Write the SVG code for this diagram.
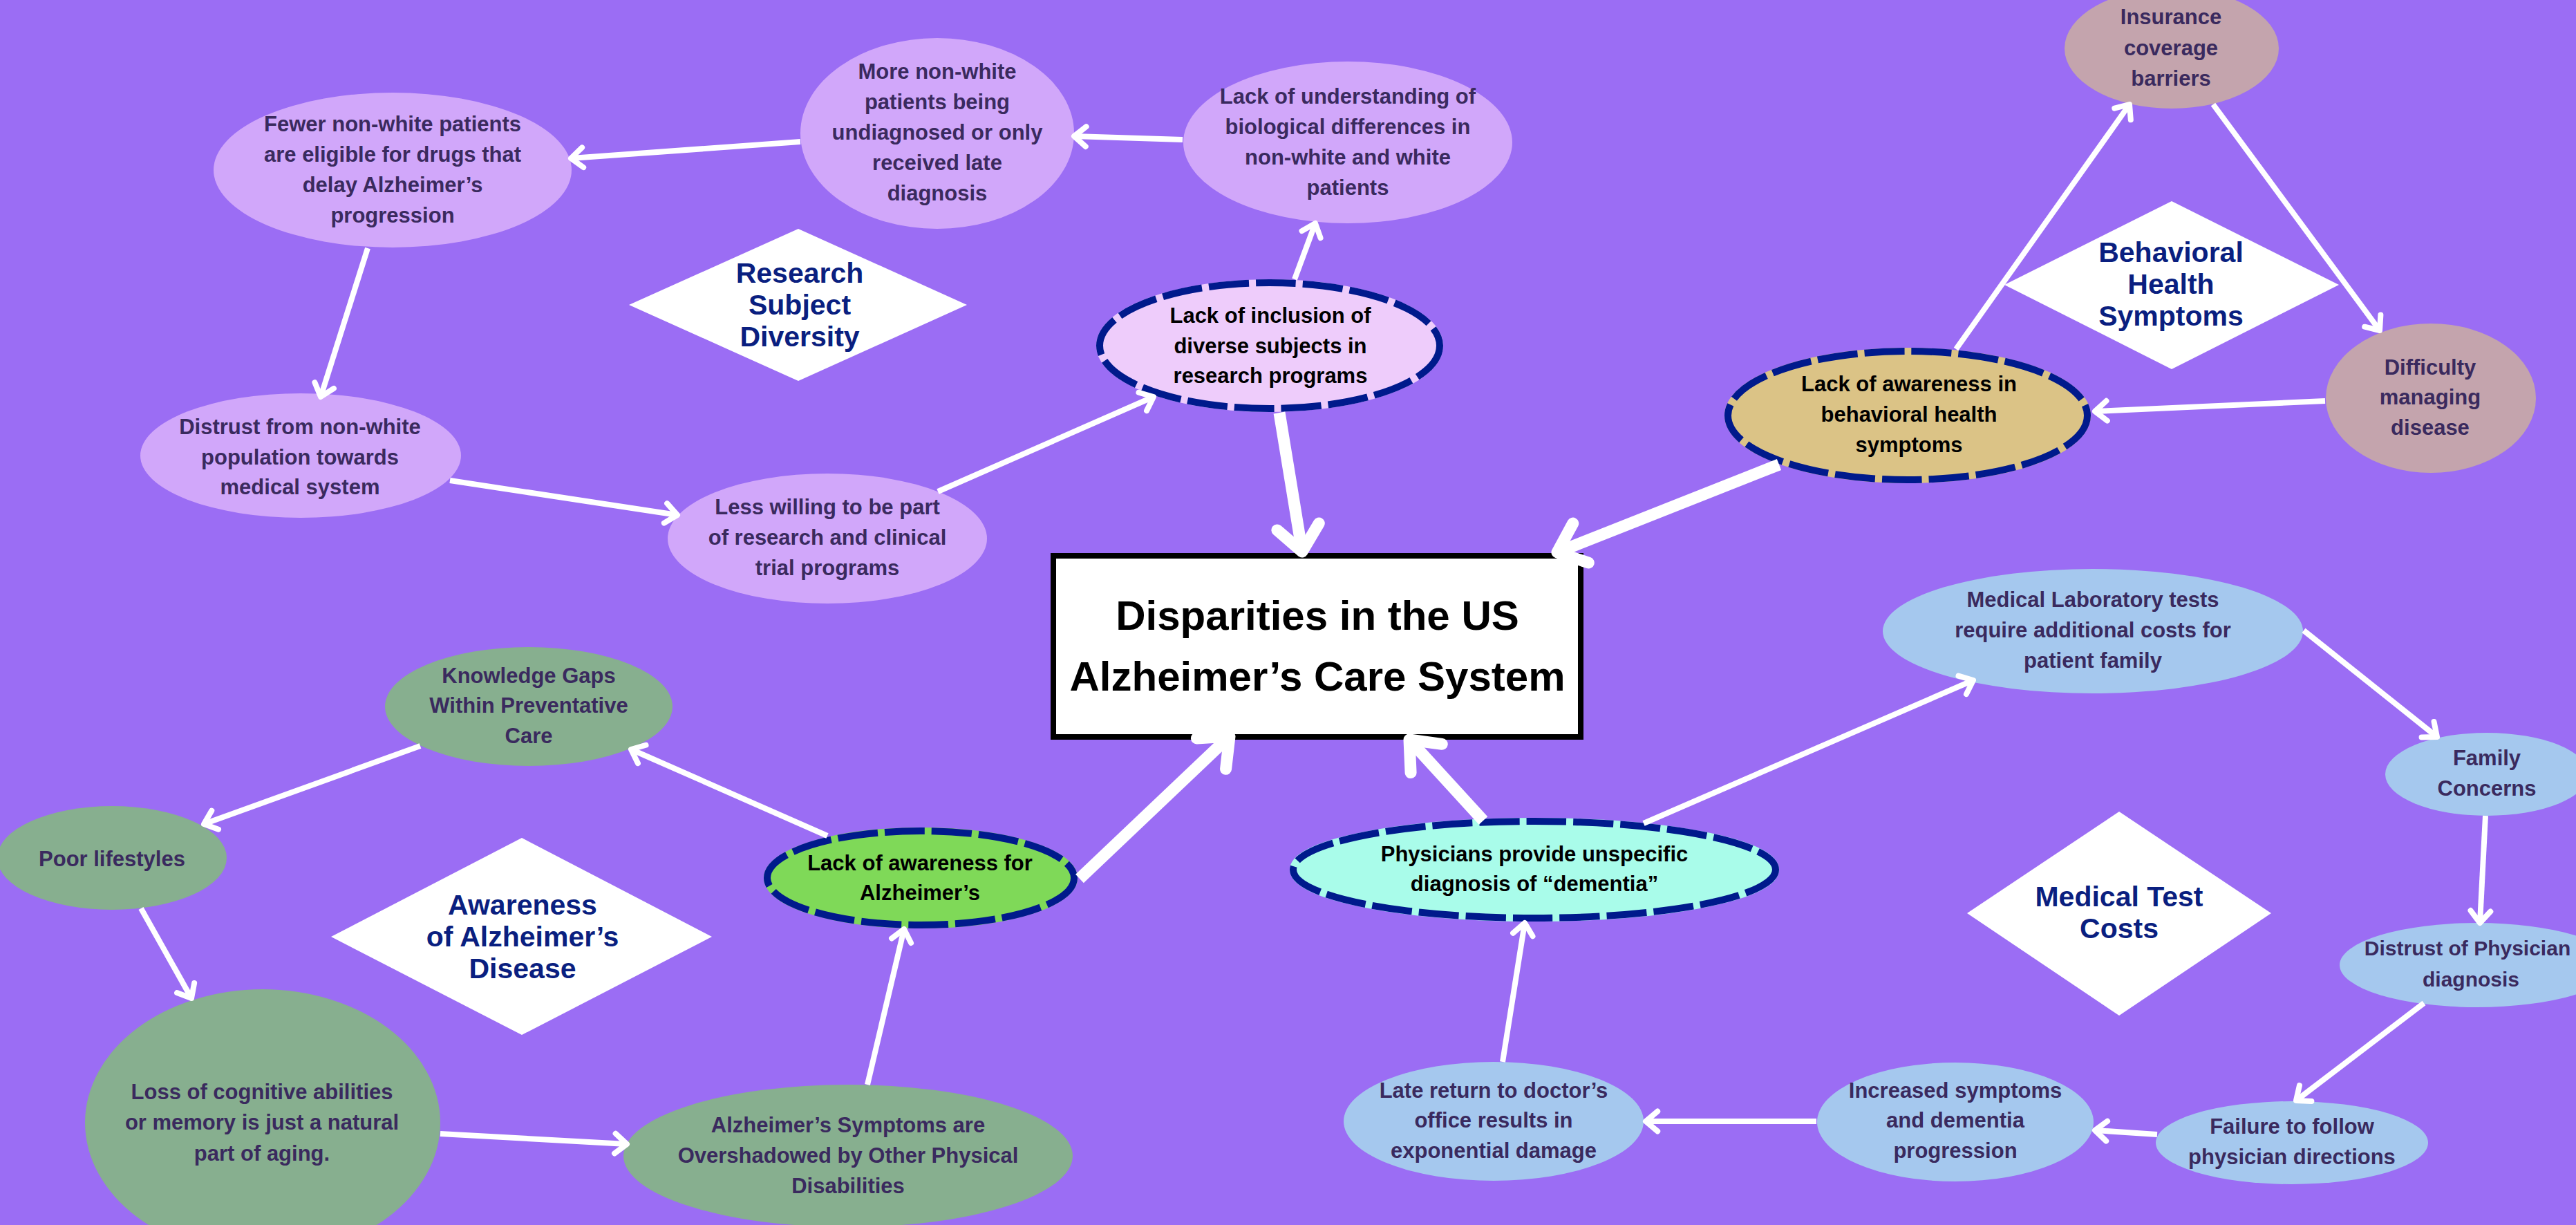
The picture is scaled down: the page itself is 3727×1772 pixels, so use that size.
<svg xmlns="http://www.w3.org/2000/svg" width="3727" height="1772" viewBox="0 0 3727 1772">
<defs>
<style>
.t{font-family:"Liberation Sans",Arial,sans-serif;font-weight:700;font-size:31px;fill:#3A2A5E;text-anchor:middle}
.k{fill:#000}
.dt{font-size:41px;fill:#0A1F80}
.ct{font-size:60px;fill:#000}
.lav{fill:#D1A7FA}
.mauve{fill:#C4A4AD}
.blue{fill:#A5C8EE}
.sage{fill:#87AF8F}
.dia{fill:#FFFFFF}
.under{stroke-width:10}
.dash{fill:none;stroke:#001A8C;stroke-width:10;stroke-dasharray:58 10}
.c{fill:none;stroke:#FFFFFF;stroke-linecap:butt;marker-end:url(#arr)}
.thin{stroke-width:8}
.thick{stroke-width:17}
</style>
<marker id="arr" markerUnits="strokeWidth" orient="auto" refX="0" refY="0" markerWidth="6" markerHeight="6" viewBox="-3 -3 6 6" overflow="visible">
<path d="M -2.15 -1.8 L 0 0 L -2.15 1.8" fill="none" stroke="#FFFFFF" stroke-width="1" stroke-linecap="round" stroke-linejoin="round"/>
</marker>
</defs>
<rect width="3727" height="1772" fill="#9B6DF4"/>

<g id="d-research">
<polygon class="dia" points="910,441 1155,331 1399,441 1155,551"/>
<text class="t dt"><tspan x="1157" y="409">Research</tspan><tspan x="1157" y="455">Subject</tspan><tspan x="1157" y="501">Diversity</tspan></text>
</g>
<g id="d-behavioral">
<polygon class="dia" points="2900,412 3142,291 3384,412 3142,534"/>
<text class="t dt"><tspan x="3141" y="379">Behavioral</tspan><tspan x="3141" y="425">Health</tspan><tspan x="3141" y="471">Symptoms</tspan></text>
</g>
<g id="d-awareness">
<polygon class="dia" points="479,1355 755,1212 1030,1355 755,1497"/>
<text class="t dt"><tspan x="756" y="1323">Awareness</tspan><tspan x="756" y="1369">of Alzheimer’s</tspan><tspan x="756" y="1415">Disease</tspan></text>
</g>
<g id="d-medical">
<polygon class="dia" points="2846,1321 3066,1174 3286,1321 3066,1469"/>
<text class="t dt"><tspan x="3066" y="1311">Medical Test</tspan><tspan x="3066" y="1357">Costs</tspan></text>
</g>

<g id="n-fewer">
<ellipse class="lav" cx="568" cy="246" rx="259" ry="112"/>
<text class="t"><tspan x="568" y="190">Fewer non-white patients</tspan><tspan x="568" y="234">are eligible for drugs that</tspan><tspan x="568" y="278">delay Alzheimer’s</tspan><tspan x="568" y="322">progression</tspan></text>
</g>
<g id="n-more">
<ellipse class="lav" cx="1356" cy="193" rx="198" ry="138"/>
<text class="t"><tspan x="1356" y="114">More non-white</tspan><tspan x="1356" y="158">patients being</tspan><tspan x="1356" y="202">undiagnosed or only</tspan><tspan x="1356" y="246">received late</tspan><tspan x="1356" y="290">diagnosis</tspan></text>
</g>
<g id="n-understanding">
<ellipse class="lav" cx="1950" cy="206" rx="238" ry="117"/>
<text class="t"><tspan x="1950" y="150">Lack of understanding of</tspan><tspan x="1950" y="194">biological differences in</tspan><tspan x="1950" y="238">non-white and white</tspan><tspan x="1950" y="282">patients</tspan></text>
</g>
<g id="n-distrust">
<ellipse class="lav" cx="435" cy="659" rx="232" ry="90"/>
<text class="t"><tspan x="434" y="628">Distrust from non-white</tspan><tspan x="434" y="672">population towards</tspan><tspan x="434" y="715">medical system</tspan></text>
</g>
<g id="n-lesswilling">
<ellipse class="lav" cx="1197" cy="779" rx="231" ry="94"/>
<text class="t"><tspan x="1197" y="744">Less willing to be part</tspan><tspan x="1197" y="788">of research and clinical</tspan><tspan x="1197" y="832">trial programs</tspan></text>
</g>
<g id="n-inclusion">
<ellipse cx="1837" cy="500" rx="246" ry="91" fill="#EECCFB" stroke="#EECCFB" class="under"/>
<ellipse class="dash" cx="1837" cy="500" rx="246" ry="91"/>
<text class="t k"><tspan x="1838" y="467">Lack of inclusion of</tspan><tspan x="1838" y="511">diverse subjects in</tspan><tspan x="1838" y="554">research programs</tspan></text>
</g>
<g id="n-behavioral">
<ellipse cx="2760" cy="601" rx="260" ry="93" fill="#DBC386" stroke="#DBC386" class="under"/>
<ellipse class="dash" cx="2760" cy="601" rx="260" ry="93"/>
<text class="t k"><tspan x="2762" y="566">Lack of awareness in</tspan><tspan x="2762" y="610">behavioral health</tspan><tspan x="2762" y="654">symptoms</tspan></text>
</g>
<g id="n-insurance">
<ellipse class="mauve" cx="3142" cy="70" rx="155" ry="87"/>
<text class="t"><tspan x="3141" y="35">Insurance</tspan><tspan x="3141" y="80">coverage</tspan><tspan x="3141" y="124">barriers</tspan></text>
</g>
<g id="n-difficulty">
<ellipse class="mauve" cx="3517" cy="576" rx="152" ry="108"/>
<text class="t"><tspan x="3516" y="542">Difficulty</tspan><tspan x="3516" y="585">managing</tspan><tspan x="3516" y="629">disease</tspan></text>
</g>

<g id="center">
<rect x="1524" y="804" width="763" height="262" fill="#FFFFFF" stroke="#000000" stroke-width="8"/>
<text class="t ct"><tspan x="1906" y="911">Disparities in the US</tspan><tspan x="1906" y="999">Alzheimer’s Care System</tspan></text>
</g>

<g id="n-medlab">
<ellipse class="blue" cx="3028" cy="913" rx="304" ry="90"/>
<text class="t"><tspan x="3028" y="878">Medical Laboratory tests</tspan><tspan x="3028" y="922">require additional costs for</tspan><tspan x="3028" y="966">patient family</tspan></text>
</g>
<g id="n-family">
<ellipse class="blue" cx="3598" cy="1120" rx="147" ry="60"/>
<text class="t"><tspan x="3598" y="1107">Family</tspan><tspan x="3598" y="1151">Concerns</tspan></text>
</g>
<g id="n-distrustphys">
<ellipse class="blue" cx="3584" cy="1396" rx="199" ry="61"/>
<text class="t" style="font-size:30px"><tspan x="3570" y="1382">Distrust of Physician</tspan><tspan x="3575" y="1427">diagnosis</tspan></text>
</g>
<g id="n-failure">
<ellipse class="blue" cx="3316" cy="1653" rx="197" ry="60"/>
<text class="t"><tspan x="3316" y="1640">Failure to follow</tspan><tspan x="3316" y="1684">physician directions</tspan></text>
</g>
<g id="n-increased">
<ellipse class="blue" cx="2829" cy="1623" rx="200" ry="86"/>
<text class="t"><tspan x="2829" y="1588">Increased symptoms</tspan><tspan x="2829" y="1631">and dementia</tspan><tspan x="2829" y="1675">progression</tspan></text>
</g>
<g id="n-late">
<ellipse class="blue" cx="2161" cy="1622" rx="217" ry="86"/>
<text class="t"><tspan x="2161" y="1588">Late return to doctor’s</tspan><tspan x="2161" y="1631">office results in</tspan><tspan x="2161" y="1675">exponential damage</tspan></text>
</g>
<g id="n-physicians">
<ellipse cx="2220" cy="1258" rx="349" ry="70" fill="#A9FCEA" stroke="#A9FCEA" class="under"/>
<ellipse class="dash" cx="2220" cy="1258" rx="349" ry="70"/>
<text class="t k"><tspan x="2220" y="1246">Physicians provide unspecific</tspan><tspan x="2220" y="1289">diagnosis of “dementia”</tspan></text>
</g>

<g id="n-knowledge">
<ellipse class="sage" cx="765" cy="1022" rx="208" ry="86"/>
<text class="t"><tspan x="765" y="988">Knowledge Gaps</tspan><tspan x="765" y="1031">Within Preventative</tspan><tspan x="765" y="1075">Care</tspan></text>
</g>
<g id="n-poor">
<ellipse class="sage" cx="162" cy="1241" rx="166" ry="75"/>
<text class="t"><tspan x="162" y="1253">Poor lifestyles</tspan></text>
</g>
<g id="n-loss">
<ellipse class="sage" cx="380" cy="1624" rx="257" ry="193"/>
<text class="t"><tspan x="379" y="1590">Loss of cognitive abilities</tspan><tspan x="379" y="1634">or memory is just a natural</tspan><tspan x="379" y="1679">part of aging.</tspan></text>
</g>
<g id="n-overshadowed">
<ellipse class="sage" cx="1227" cy="1672" rx="325" ry="103"/>
<text class="t"><tspan x="1227" y="1638">Alzheimer’s Symptoms are</tspan><tspan x="1227" y="1682">Overshadowed by Other Physical</tspan><tspan x="1227" y="1726">Disabilities</tspan></text>
</g>
<g id="n-awareness">
<ellipse cx="1332" cy="1270" rx="222" ry="68" fill="#7FD958" stroke="#7FD958" class="under"/>
<ellipse class="dash" cx="1332" cy="1270" rx="222" ry="68"/>
<text class="t k"><tspan x="1331" y="1259">Lack of awareness for</tspan><tspan x="1331" y="1302">Alzheimer’s</tspan></text>
</g>

<g id="connectors">
<line class="c thin" x1="1711" y1="202" x2="1554" y2="197"/>
<line class="c thin" x1="1158" y1="205" x2="826" y2="229"/>
<line class="c thin" x1="532" y1="359" x2="464" y2="574"/>
<line class="c thin" x1="651" y1="695" x2="980" y2="745"/>
<line class="c thin" x1="1357" y1="711" x2="1669" y2="574"/>
<line class="c thin" x1="1873" y1="404" x2="1903" y2="323"/>
<line class="c thick" x1="1851" y1="597" x2="1884" y2="798"/>
<line class="c thick" x1="2574" y1="672" x2="2253" y2="799"/>
<line class="c thin" x1="2830" y1="505" x2="3081" y2="151"/>
<line class="c thin" x1="3202" y1="151" x2="3443" y2="478"/>
<line class="c thin" x1="3364" y1="580" x2="3031" y2="595"/>
<line class="c thin" x1="1197" y1="1209" x2="913" y2="1084"/>
<line class="c thin" x1="608" y1="1079" x2="295" y2="1192"/>
<line class="c thin" x1="204" y1="1314" x2="277" y2="1444"/>
<line class="c thin" x1="637" y1="1640" x2="907" y2="1655"/>
<line class="c thin" x1="1255" y1="1569" x2="1308" y2="1344"/>
<line class="c thick" x1="1562" y1="1271" x2="1779" y2="1065"/>
<line class="c thick" x1="2146" y1="1187" x2="2039" y2="1070"/>
<line class="c thin" x1="2378" y1="1191" x2="2855" y2="984"/>
<line class="c thin" x1="3333" y1="912" x2="3526" y2="1066"/>
<line class="c thin" x1="3596" y1="1180" x2="3588" y2="1335"/>
<line class="c thin" x1="3507" y1="1451" x2="3322" y2="1592"/>
<line class="c thin" x1="3121" y1="1641" x2="3031" y2="1635"/>
<line class="c thin" x1="2628" y1="1622" x2="2381" y2="1622"/>
<line class="c thin" x1="2174" y1="1536" x2="2206" y2="1335"/>
</g>
</svg>
